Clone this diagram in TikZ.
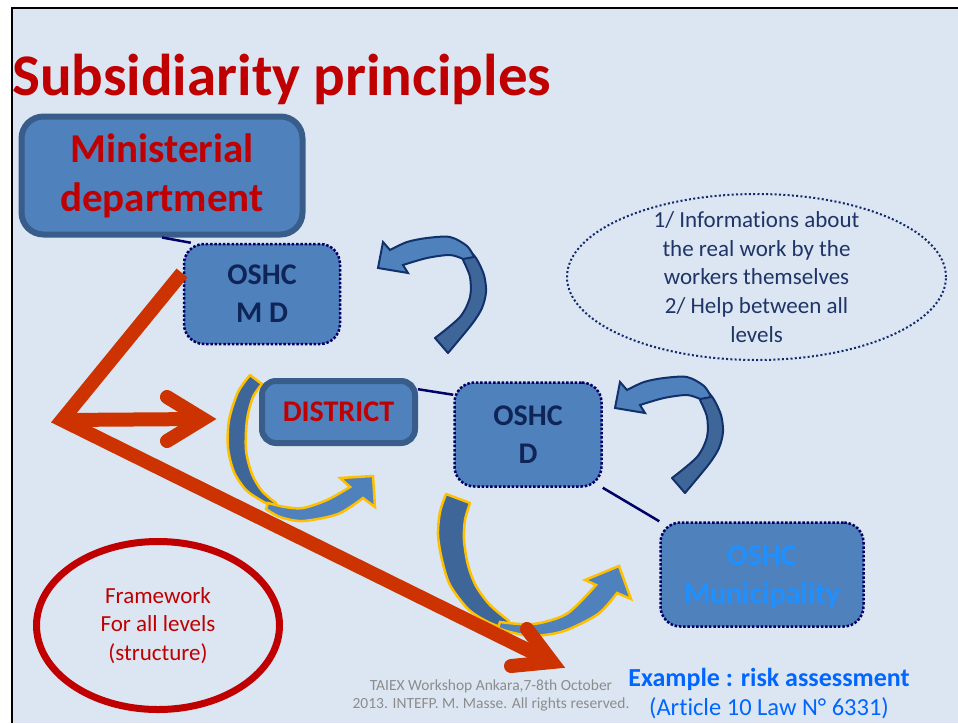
\documentclass[tikz,border=0pt]{standalone}
\usepackage{fontspec}
\setmainfont{Carlito}[Ligatures={NoCommon,NoContextual}]
\usetikzlibrary{shapes.geometric,calc}
\definecolor{bg}{HTML}{DCE6F2}
\definecolor{titlered}{HTML}{C00000}
\definecolor{boxfill}{HTML}{4F81BD}
\definecolor{boxline}{HTML}{385D8A}
\definecolor{dotnavy}{HTML}{000066}
\definecolor{oshcnavy}{HTML}{0F2557}
\definecolor{ellnavy}{HTML}{102A6E}
\definecolor{infotext}{HTML}{1F3468}
\definecolor{twistdark}{HTML}{3F6699}
\definecolor{arrnavy}{HTML}{12306A}
\definecolor{gold}{HTML}{FFC000}
\definecolor{arrowred}{HTML}{CC3300}
\definecolor{munitext}{HTML}{1E90FF}
\definecolor{exblue}{HTML}{0066FF}
\definecolor{footgray}{HTML}{8C8C8C}
\tikzset{
  solidbox/.style={draw=boxline, line width=6pt, fill=boxfill, rounded corners=14pt,
    inner sep=0pt, align=center, text=titlered},
  dotbox/.style={draw=dotnavy, line width=2.5pt, dash pattern=on 2.5pt off 1.8pt,
    fill=boxfill, rounded corners=20pt, inner sep=0pt, align=center,
    font=\bfseries\fontsize{30}{38}\selectfont, text=oshcnavy},
  redarrow/.style={draw=arrowred, line width=14pt},
  navylink/.style={draw=dotnavy, line width=2.5pt},
  backnavy/.style={fill=twistdark, draw=arrnavy, line width=2pt, line join=round},
  frontnavy/.style={fill=boxfill, draw=arrnavy, line width=2pt, line join=miter},
  backgold/.style={fill=twistdark, draw=gold, line width=2.5pt, line join=round},
  frontgold/.style={fill=boxfill, draw=gold, line width=2.5pt, line join=miter},
}
\begin{document}
\begin{tikzpicture}[x=1pt,y=-1pt]
\useasboundingbox (0,0) rectangle (958,723);
\fill[bg] (12,8) rectangle (958,723);
\draw[line width=2.5pt,black] (12,723) -- (12,8) -- (958,8);

% title
\node[anchor=base west, inner sep=0pt, text=titlered,
  font=\bfseries\fontsize{59}{60}\selectfont] (title) at (12,95) {Subsidiarity principles};

% gold curved arrow around DISTRICT
\filldraw[backgold]
  plot[smooth] coordinates {(250,375) (238,392) (229,420) (228,448) (234,472) (246,490) (262,501) (276,508)}
  -- plot[smooth] coordinates {(276,503) (262,491) (252,474) (246,450) (247,420) (253,397) (262,384)}
  -- cycle;
\filldraw[frontgold]
  plot[smooth] coordinates {(268,503) (285,507) (303,508) (327,500) (350,487)}
  -- (340,478) -- (373,476) -- (375,507)
  -- plot[smooth] coordinates {(363,498) (338,514) (303,521) (280,517) (266,509)}
  -- cycle;

% gold curved arrow below OSHC D
\filldraw[backgold]
  plot[smooth] coordinates {(446,494) (440,512) (438,535) (442,560) (450,585) (468,609) (486,621) (505,629)}
  -- plot[smooth] coordinates {(509,621) (490,605) (476,586) (468,565) (464,540) (465,520) (470,503)}
  -- cycle;
\filldraw[frontgold]
  plot[smooth] coordinates {(500,622) (520,624) (540,623) (568,613) (596,585)}
  -- (585,580) -- (619,566) -- (631,599)
  -- plot[smooth] coordinates {(617,593) (598,614) (564,631) (533,636) (510,632) (498,628)}
  -- cycle;

% navy curved arrows (feedback)
\foreach \sx/\sy in {0/0, 237/140}{
\begin{scope}[shift={(\sx,\sy)}]
\filldraw[backnavy]
  plot[smooth] coordinates {(466,247) (476,258) (484,275) (486,292) (482,308) (472,324) (448,353)}
  -- (435,338)
  -- plot[smooth] coordinates {(435,338) (460,317) (470,297) (470,277) (463,260)}
  -- cycle;
\filldraw[frontnavy]
  (378,268) -- (383,242)
  -- plot[smooth] coordinates {(390,250) (407,242) (427,238) (450,237) (467,246) (474,257)}
  -- plot[smooth] coordinates {(463,259) (450,255) (427,258) (403,265)}
  -- (408,273) -- cycle;
\end{scope}
}

% boxes
\node[solidbox, minimum width=281, minimum height=118, rounded corners=22pt,
  font=\bfseries\fontsize{41}{49}\selectfont] (min) at (162,175.5) {Ministerial\\department};
\node[dotbox, minimum width=156, minimum height=100] (oshcmd) at (262,294) {OSHC\\M D};
\node[solidbox, minimum width=153, minimum height=62,
  font=\bfseries\fontsize{30}{38}\selectfont] (district) at (338.5,412) {DISTRICT};
\node[dotbox, minimum width=147, minimum height=104] (oshcd) at (528,434.5) {OSHC\\D};
\node[dotbox, minimum width=203, minimum height=104, text=munitext, text depth=0pt] (muni) at (762,574.5) {OSHC\\Municipality};

% thin links
\draw[navylink] (min.south) -- ([xshift=8pt]oshcmd.north west);
\draw[navylink] (district.16) -- (oshcd.152);
\draw[navylink] (oshcd.south east) -- (muni.north west);

% info ellipse
\node[ellipse, draw=ellnavy, line width=2pt, dash pattern=on 2pt off 2.3pt,
  minimum width=379, minimum height=166, inner sep=0pt] (info) at (756.5,277) {};
\node[align=center, inner sep=0pt, text=infotext, font=\fontsize{23}{28.8}\selectfont]
  (infotxt) at (info.center) {1/ Informations about\\the real work by the\\workers themselves\\2/ Help between all\\levels};

% framework ellipse
\node[ellipse, draw=titlered, line width=7pt, minimum width=243, minimum height=168,
  inner sep=0pt, align=center, text=titlered, font=\fontsize{23}{28.5}\selectfont]
  (frame) at (158,625.5) {Framework\\For all levels\\(structure)};

% red arrows
\coordinate (redtop) at (182,273);
\coordinate (corner) at (62,420);
\coordinate (hV) at (203,419);
\coordinate (hA1) at (167,397);
\coordinate (hA2) at (167,441);
\coordinate (dV) at (552,662);
\coordinate (dA1) at (527,629);
\coordinate (dA2) at (511,666);
\draw[redarrow, line join=miter] (redtop) -- (corner) -- (dV);
\draw[redarrow] (corner) -- (hV);
\draw[redarrow, line cap=round, line join=miter] (hA1) -- (hV) -- (hA2);
\draw[redarrow, line cap=round, line join=miter] (dA1) -- (dV) -- (dA2);

% footer texts
\node[align=center, inner sep=0pt, text=footgray, font=\fontsize{15.5}{18}\selectfont]
  (footer) at (491,695.5) {TAIEX Workshop Ankara,7-8th October\\2013. INTEFP. M. Masse. All rights reserved.};
\node[align=center, inner sep=0pt, text=exblue, font=\fontsize{24.5}{29}\selectfont]
  (example) at (769,693.5) {{\bfseries\fontsize{26}{29}\selectfont Example : risk assessment}\\(Article 10 Law N° 6331)};
\end{tikzpicture}
\end{document}
